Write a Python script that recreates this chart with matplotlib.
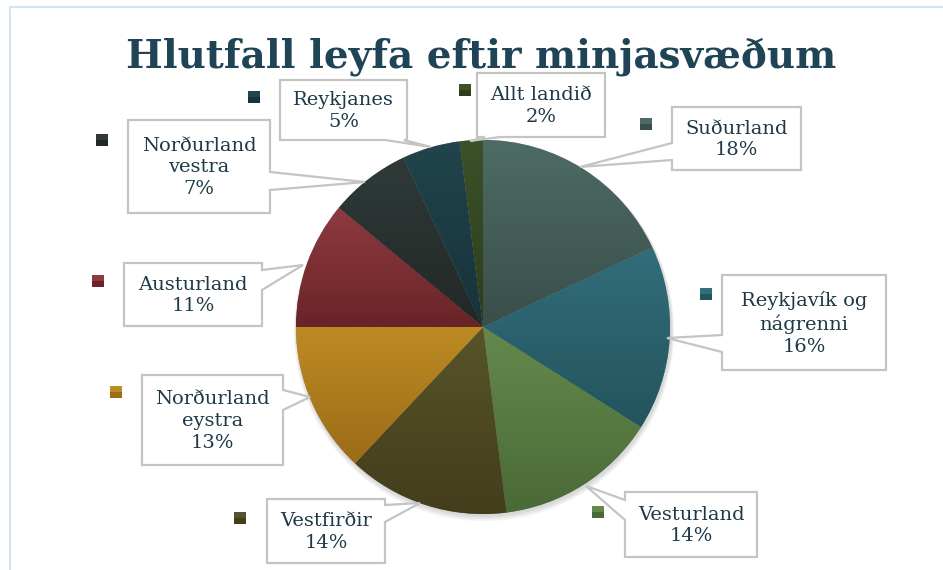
import matplotlib
matplotlib.use("Agg")
import matplotlib.pyplot as plt
import numpy as np
from matplotlib.colors import to_rgb
from matplotlib.patches import Polygon, Rectangle

# data (clockwise from 12 o'clock)
regions = ["Suðurland", "Reykjavík og\nnágrenni", "Vesturland", "Vestfirðir",
           "Norðurland\neystra", "Austurland", "Norðurland\nvestra", "Reykjanes",
           "Allt landið"]
shares = [18, 16, 14, 14, 13, 11, 7, 5, 2]

top_cols = ["#4d6b66", "#316e7a", "#64894c", "#575429", "#bd8b23", "#8f3a40",
            "#2f3a38", "#21444d", "#3b5129"]
bot_cols = ["#3a4e4a", "#24545e", "#4a6a37", "#433d1c", "#9c6c18", "#692427",
            "#222826", "#17323a", "#2d3d1d"]

W, H = 943, 570
TXT = "#1d3947"

fig = plt.figure(figsize=(W / 100, H / 100), dpi=100)
ax = fig.add_axes([0, 0, 1, 1])


def py(y):
    return H - y


# chart area border
ax.add_patch(Rectangle((10, py(600)), 1000, 593, fill=False, ec="#d3e6f0", lw=1.5))

cx, cy, R = 483, 327, 187

# soft shadow
for i in range(3):
    ax.add_patch(plt.Circle((cx + 1, py(cy) - 2 - i), R + 1 + i, color="k", alpha=0.05, lw=0))

wedges, _ = ax.pie(shares, startangle=90, counterclock=False,
                   center=(cx, py(cy)), radius=R, frame=True,
                   wedgeprops=dict(linewidth=0.3, edgecolor="#b8b8b8"))

# vertical gradient in each slice
for w, c1, c2 in zip(wedges, top_cols, bot_cols):
    w.set_facecolor(c2)
    v = w.get_path().vertices
    y0, y1 = v[:, 1].min(), v[:, 1].max()
    x0, x1 = v[:, 0].min(), v[:, 0].max()
    t = np.linspace(0, 1, 64)[:, None]
    grad = (1 - t) * np.array(to_rgb(c2)) + t * np.array(to_rgb(c1))
    im = ax.imshow(grad[:, None, :], extent=[x0, x1, y0, y1], origin="lower",
                   aspect="auto", interpolation="bilinear", zorder=w.get_zorder() + 0.1)
    im.set_clip_path(w)

ax.set_xlim(0, W)
ax.set_ylim(0, H)
ax.set_aspect("equal")
ax.axis("off")

# label boxes: (x0, y0, x1, y1), pointer base (two points), tip, key square centre
boxes = [
    ((672, 107, 801, 170), [(672, 160), (672, 143)], (580, 167), (646, 124)),
    ((722, 275, 886, 370), [(722, 335), (722, 352)], (667, 338), (706, 294)),
    ((625, 492, 757, 557), [(625, 520), (625, 500)], (586, 486), (598, 512)),
    ((267, 499, 385, 563), [(385, 522), (385, 505)], (420, 503), (240, 518)),
    ((142, 375, 283, 465), [(283, 390), (283, 410)], (310, 397), (116, 392)),
    ((124, 263, 262, 326), [(262, 270), (262, 290)], (303, 265), (98, 281)),
    ((128, 120, 270, 213), [(270, 172), (270, 190)], (365, 182), (102, 140)),
    ((280, 80, 407, 140), [(385, 140), (404, 140)], (431, 147), (254, 97)),
    ((477, 73, 605, 137), [(485, 137), (500, 137)], (470, 141), (465, 90)),
]

for (box, base, tip, key), name, s, c1, c2 in zip(boxes, regions, shares, top_cols, bot_cols):
    x0, y0, x1, y1 = box
    b0, b1 = base
    if b0[0] == x0 and b1[0] == x0:
        pts = [(x0, y0), (x1, y0), (x1, y1), (x0, y1), (x0, max(b0[1], b1[1])), tip,
               (x0, min(b0[1], b1[1]))]
    elif b0[0] == x1 and b1[0] == x1:
        pts = [(x0, y0), (x1, y0), (x1, min(b0[1], b1[1])), tip,
               (x1, max(b0[1], b1[1])), (x1, y1), (x0, y1)]
    else:
        pts = [(x0, y0), (x1, y0), (x1, y1), (max(b0[0], b1[0]), y1), tip,
               (min(b0[0], b1[0]), y1), (x0, y1)]
    ax.add_patch(Polygon([(p[0], py(p[1])) for p in pts], closed=True,
                         fc="white", ec="#c4c4c4", lw=1.6, zorder=5))
    ax.text((x0 + x1) / 2, py((y0 + y1) / 2 + 1), f"{name}\n{s}%", ha="center",
            va="center", color=TXT, fontsize=14, family="DejaVu Serif",
            linespacing=1.28, zorder=6)
    kx, ky = key
    k = 12
    ax.add_patch(Rectangle((kx - k / 2, py(ky) - k / 2), k, k, fc=c2, ec="none", zorder=6))
    ax.add_patch(Rectangle((kx - k / 2, py(ky)), k, k / 2, fc=c1, ec="none", zorder=6))

ax.text(481, py(68), "Hlutfall leyfa eftir minjasvæðum", ha="center", va="baseline",
        color="#1e4456", fontsize=28, fontweight="bold", family="DejaVu Serif")

fig.savefig("out.png", dpi=100)
